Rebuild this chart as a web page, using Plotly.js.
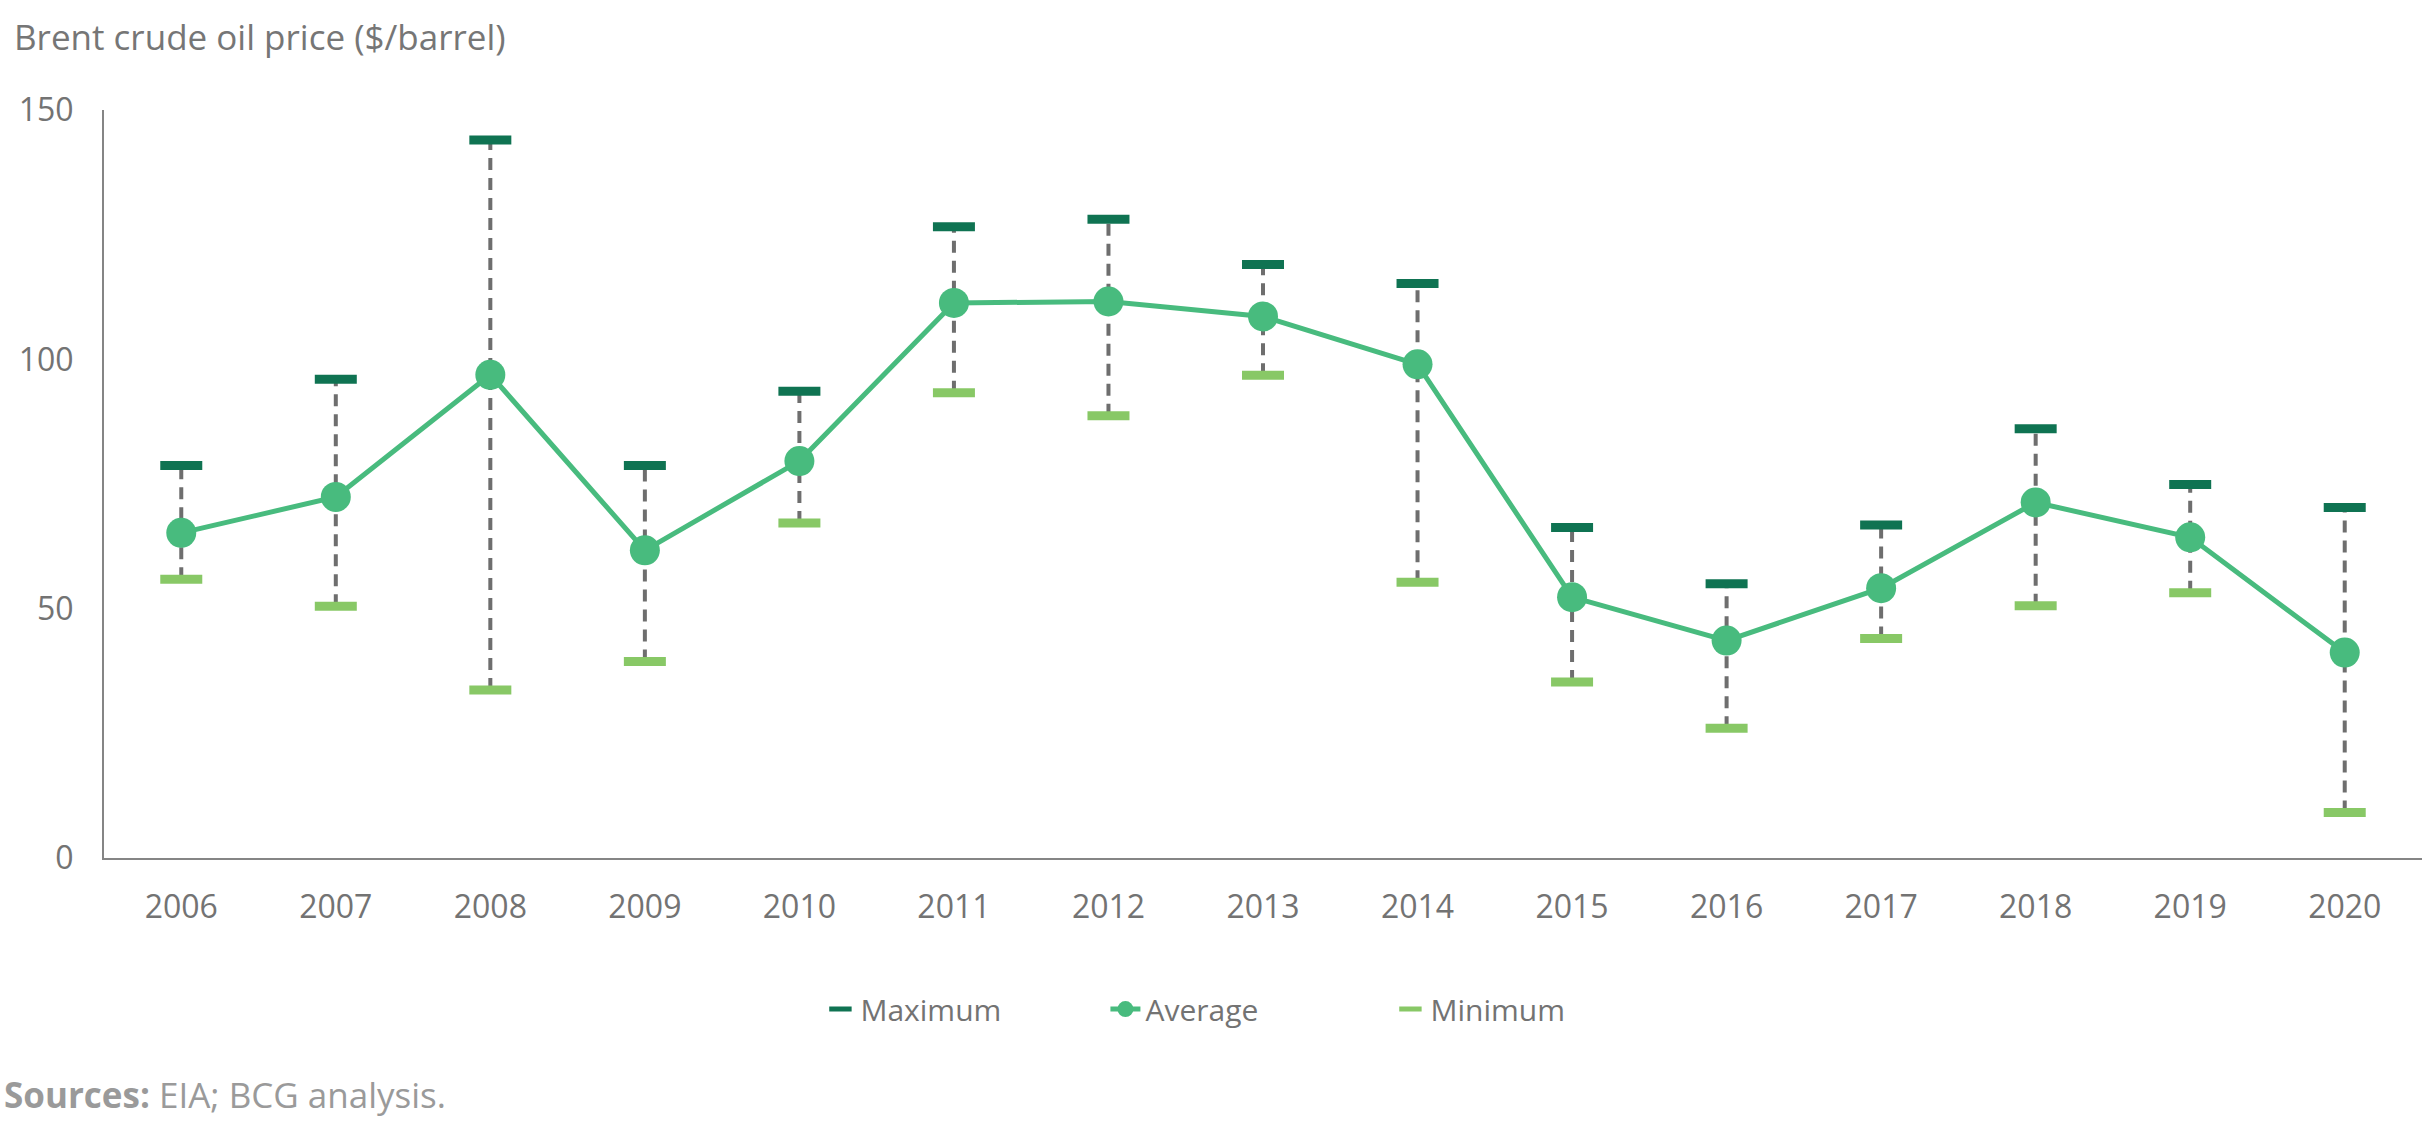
<!DOCTYPE html>
<html>
<head>
<meta charset="utf-8">
<script src="https://cdn.plot.ly/plotly-3.0.1.min.js"></script>
<style>
  html, body { margin: 0; padding: 0; background: #ffffff; }
  #chart { width: 2430px; height: 1132px; }
</style>
</head>
<body>
<div id="chart"></div>
<script>
// ---- Data ----
const years = ["2006","2007","2008","2009","2010","2011","2012","2013","2014","2015","2016","2017","2018","2019","2020"];
const maxPrice = [78.7, 96.0, 144.0, 78.7, 93.6, 126.6, 128.1, 119.0, 115.2, 66.3, 55.0, 66.8, 86.1, 74.9, 70.3];
const avgPrice = [65.2, 72.4, 96.9, 61.7, 79.6, 111.3, 111.6, 108.6, 99.0, 52.3, 43.6, 54.1, 71.3, 64.3, 41.2];
const minPrice = [55.9, 50.5, 33.7, 39.4, 67.2, 93.3, 88.7, 96.8, 55.3, 35.3, 26.0, 44.0, 50.6, 53.2, 9.1];
const yTicks = [0, 50, 100, 150];

const titleText = "Brent crude oil price ($/barrel)";
const sourceText = "<b>Sources:</b> EIA; BCG analysis.";

// ---- Build range connector (min to max) from the arrays ----
const rangeX = [], rangeY = [];
years.forEach((yr, i) => {
  rangeX.push(yr, yr, null);
  rangeY.push(minPrice[i], maxPrice[i], null);
});

const FONT = "Open Sans, sans-serif";
const TEXT_GRAY = "#737373";

const traces = [
  {
    type: "scatter", mode: "lines",
    x: rangeX, y: rangeY,
    line: { color: "#6e6e6e", width: 4, dash: "12px,8px" },
    connectgaps: false, showlegend: false, hoverinfo: "skip"
  },
  {
    type: "scatter", mode: "markers", name: "Maximum",
    x: years, y: maxPrice, legendrank: 1,
    marker: { symbol: "line-ew", size: 30, color: "#0f7352",
              line: { color: "#0f7352", width: 9 } }
  },
  {
    type: "scatter", mode: "markers", name: "Minimum",
    x: years, y: minPrice, legendrank: 3,
    marker: { symbol: "line-ew", size: 30, color: "#88c866",
              line: { color: "#88c866", width: 9 } }
  },
  {
    type: "scatter", mode: "lines+markers", name: "Average",
    x: years, y: avgPrice, legendrank: 2,
    line: { color: "#48bb7e", width: 5 },
    marker: { symbol: "circle", size: 30, color: "#48bb7e" }
  }
];

const layout = {
  width: 2430, height: 1132,
  paper_bgcolor: "#ffffff", plot_bgcolor: "#ffffff",
  margin: { l: 104, r: 8, t: 110, b: 274 },
  font: { family: FONT, color: TEXT_GRAY, size: 32 },
  showlegend: true,
  title: {
    text: titleText,
    font: { family: FONT, size: 35, color: "#767676" },
    xref: "container", yref: "container",
    x: 14 / 2430, xanchor: "left",
    y: 1 - 38 / 1132, yanchor: "middle"
  },
  xaxis: {
    type: "category",
    categoryorder: "array", categoryarray: years,
    range: [-0.5, years.length - 0.5],
    showline: true, linecolor: "#858585", linewidth: 2,
    showgrid: false, zeroline: false, ticks: "",
    tickfont: { family: FONT, size: 32, color: TEXT_GRAY },
    ticklabelstandoff: 20,
    fixedrange: true
  },
  yaxis: {
    range: [0, 150],
    tickvals: yTicks, ticktext: yTicks.map(String),
    showline: true, linecolor: "#858585", linewidth: 2,
    showgrid: false, zeroline: false, ticks: "",
    tickfont: { family: FONT, size: 32, color: TEXT_GRAY },
    ticklabelstandoff: 22,
    fixedrange: true
  },
  legend: {
    orientation: "h",
    x: 0.4935, xanchor: "center",
    y: -0.202, yanchor: "middle",
    font: { family: FONT, size: 30, color: TEXT_GRAY },
    entrywidth: 240,
    bgcolor: "rgba(0,0,0,0)"
  },
  annotations: [
    {
      text: sourceText,
      xref: "paper", yref: "paper",
      x: 0, xanchor: "left", xshift: -102,
      y: -0.316, yanchor: "middle",
      showarrow: false,
      font: { family: FONT, size: 35, color: "#9a9a9a" }
    }
  ]
};

Plotly.newPlot("chart", traces, layout, { displayModeBar: false, staticPlot: true });
</script>
</body>
</html>
